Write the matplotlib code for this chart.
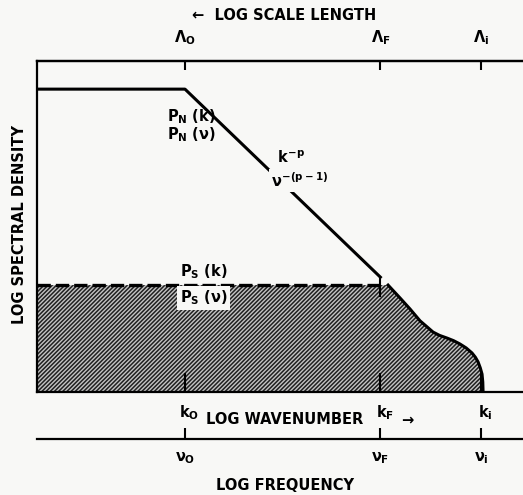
import matplotlib.pyplot as plt

plt.rcParams['font.family'] = ['DejaVu Sans']
plt.rcParams['font.weight'] = 'bold'
plt.rcParams['mathtext.fontset'] = 'custom'
plt.rcParams['mathtext.rm'] = 'DejaVu Sans:bold'
plt.rcParams['mathtext.it'] = 'DejaVu Sans:bold'
plt.rcParams['mathtext.bf'] = 'DejaVu Sans:bold'
plt.rcParams['hatch.linewidth'] = 1.1

PAPER = '#f8f8f6'
FS = 10.5

# log wavenumber of the outer, forcing and inner scales
scale_pos = [1.0, 2.32, 3.0]
scale_labels = [r'$\Lambda_O$', r'$\Lambda_F$', r'$\Lambda_i$']
k_labels = [r'$k_O$', r'$k_F$', r'$k_i$']
nu_labels = [r'$\nu_O$', r'$\nu_F$', r'$\nu_i$']

# non-stationary spectrum P_N: flat below k_O, then k^-p up to k_F
pn_x = [0.0, 1.0, 2.32]
pn_y = [0.915, 0.915, 0.347]
pn_drop = 0.29

# stationary spectrum P_S: flat level, then the dissipation bump near k_i
ps_level = 0.323
ps_x = [0.0, 2.372, 2.453, 2.520, 2.588, 2.640, 2.676, 2.720, 2.770, 2.815,
        2.858, 2.900, 2.939, 2.962, 2.980, 2.995, 3.007, 3.012, 3.014]
ps_y = [0.323, 0.323, 0.284, 0.251, 0.215, 0.195, 0.181, 0.171, 0.163, 0.155,
        0.145, 0.133, 0.118, 0.105, 0.091, 0.073, 0.054, 0.030, 0.0]

fig = plt.figure(figsize=(5.23, 4.95), dpi=100, facecolor=PAPER)

ax = fig.add_axes([37 / 523, 103 / 495, 486 / 523, 331 / 495])
ax.set_xlim(0, 486 / 148)
ax.set_ylim(0, 1)
ax.set_facecolor('none')
ax.spines['right'].set_visible(False)
for side in ['left', 'top', 'bottom']:
    ax.spines[side].set_linewidth(1.6)
ax.set_yticks([])
ax.set_xticks(scale_pos)
ax.tick_params(axis='x', direction='in', length=14, width=1.5,
               bottom=True, top=False, labelbottom=False)

# scale length ticks along the top
top = ax.secondary_xaxis('top')
top.set_xticks(scale_pos, scale_labels)
top.spines['top'].set_linewidth(1.6)
top.tick_params(direction='in', length=6.5, width=1.5, pad=10, labelsize=FS)

# shaded stationary part
ax.fill_between(ps_x, ps_y, 0, facecolor='#c4c4c4', edgecolor='#202020',
                hatch='/' * 8, linewidth=0, zorder=1)
ax.plot(ps_x[1:], ps_y[1:], color='black', lw=2.2, solid_joinstyle='round')
ax.plot([0, scale_pos[1]], [ps_level, ps_level], color='black', lw=2.4,
        dashes=(4, 1.5))

ax.plot(pn_x, pn_y, color='black', lw=2.2, solid_joinstyle='round')
ax.plot([pn_x[-1], pn_x[-1]], [pn_y[-1], pn_drop], color='black', lw=1.5)

ax.text(0.878, 0.831, r'$P_N$ (k)', ha='left', va='center', fontsize=FS)
ax.text(0.878, 0.776, r'$P_N$ ($\nu$)', ha='left', va='center', fontsize=FS)
ax.text(1.716, 0.707, r'$k^{-p}$', ha='center', va='center', fontsize=FS,
        bbox=dict(facecolor=PAPER, edgecolor='none', pad=1))
ax.text(1.777, 0.640, r'$\nu^{-(p-1)}$', ha='center', va='center', fontsize=FS,
        bbox=dict(facecolor=PAPER, edgecolor='none', pad=1.5))
ax.text(0.966, 0.363, r'$P_S$ (k)', ha='left', va='center', fontsize=FS)
ax.text(0.966, 0.284, r'$P_S$ ($\nu$)', ha='left', va='center', fontsize=FS,
        bbox=dict(facecolor=PAPER, edgecolor='none', pad=2))

# wavenumber / frequency axis below the plot
ax2 = fig.add_axes([37 / 523, 56 / 495, 486 / 523, 39 / 495])
ax2.set_xlim(0, 486 / 148)
ax2.set_ylim(0, 1)
ax2.set_facecolor('none')
for side in ['left', 'top', 'right']:
    ax2.spines[side].set_visible(False)
ax2.spines['bottom'].set_linewidth(1.6)
ax2.set_yticks([])
ax2.set_xticks(scale_pos, nu_labels)
ax2.tick_params(axis='x', direction='in', length=8, width=1.5, pad=8, labelsize=FS)
for x, lab in zip(scale_pos, k_labels):
    ax2.text(x + 0.03, 0.67, lab, ha='center', va='center', fontsize=FS)
ax2.text(1.676, 0.49, 'LOG WAVENUMBER', ha='center', va='center', fontsize=FS)
ax2.text(2.5, 0.49, '→', ha='center', va='center', fontsize=FS)

fig.text(285 / 523, 1 - 485 / 495, 'LOG FREQUENCY', ha='center', va='center', fontsize=FS)
fig.text(284 / 523, 1 - 15 / 495, '←  LOG SCALE LENGTH', ha='center', va='center', fontsize=FS)
fig.text(20 / 523, 1 - 225 / 495, 'LOG SPECTRAL DENSITY', rotation=90,
         ha='center', va='center', fontsize=FS)

fig.savefig('out.png', dpi=100, facecolor=PAPER)
